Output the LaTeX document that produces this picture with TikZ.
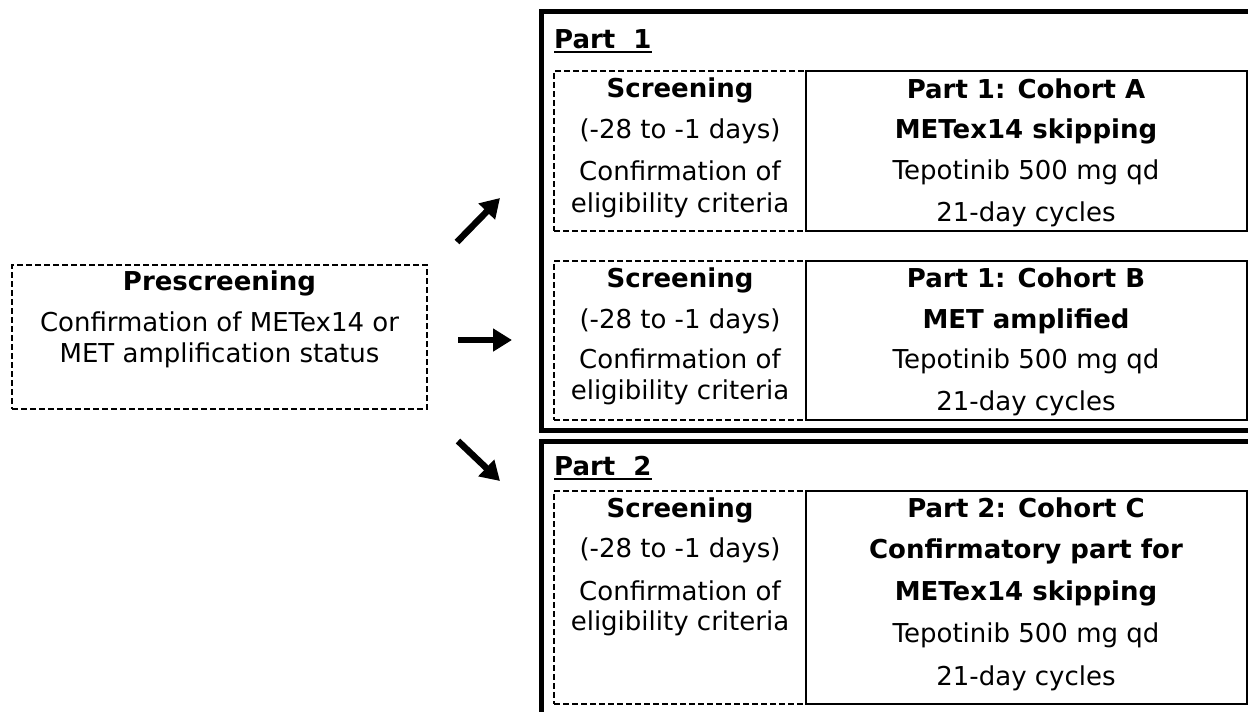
\documentclass[tikz,border=0pt]{standalone}
\usepackage{fontspec}
\setmainfont{DejaVu Sans}
\usetikzlibrary{arrows.meta}
\begin{document}
\begin{tikzpicture}[x=1pt,y=-1pt,
  txt/.style={font=\fontsize{26}{30}\selectfont, anchor=base, inner sep=0pt},
  btxt/.style={font=\fontsize{26}{30}\selectfont\bfseries, anchor=base, inner sep=0pt},
  head/.style={font=\fontsize{26}{30}\selectfont\bfseries, anchor=base west, inner sep=0pt},
  dbox/.style={draw, line width=1.2pt, dash pattern=on 6pt off 3pt, inner sep=0pt, outer sep=0pt, anchor=north west},
  sbox/.style={draw, line width=1.3pt, inner sep=0pt, outer sep=0pt, anchor=north west},
  frame/.style={draw, line width=5pt},
  arr/.style={line width=6.5pt, -{Triangle[length=19pt,width=22pt]}}
]
\useasboundingbox[fill=white] (0,0) rectangle (1248,712);

% outer frames of the two study parts
\draw[frame] (541.5,11) rectangle (1262,430);
\draw[frame] (541.5,441) rectangle (1262,728);

% prescreening
\node[dbox, minimum width=415pt, minimum height=144pt] (pre) at (12,265) {};
\node[btxt] (preT) at (219.5,290) {Prescreening};
\node[txt] (preL1) at (219.5,331) {Confirmation of METex14 or};
\node[txt] (preL2) at (219.5,362) {MET amplification status};

% part headings
\node[head] (p1h) at (554,48) {Part\ \ 1};
\draw[line width=2.4pt] ([yshift=-4pt]p1h.base west) -- ([yshift=-4pt]p1h.base east);
\node[head] (p2h) at (554,475) {Part\ \ 2};
\draw[line width=2.4pt] ([yshift=-4pt]p2h.base west) -- ([yshift=-4pt]p2h.base east);

% cohort A
\node[dbox, minimum width=252pt, minimum height=160pt] (scrA) at (554,71) {};
\node[sbox, minimum width=441pt, minimum height=160pt] (cohA) at (806,71) {};
\node[btxt] (sA1) at (680,97) {Screening};
\node[txt] (sA2) at (680,138) {(-28 to -1 days)};
\node[txt] (sA3) at (680,180) {Confirmation of};
\node[txt] (sA4) at (680,212) {eligibility criteria};
\node[btxt] (cA1) at (1026,98) {Part 1: Cohort A};
\node[btxt] (cA2) at (1026,138) {METex14 skipping};
\node[txt] (cA3) at (1026,179) {Tepotinib 500 mg qd};
\node[txt] (cA4) at (1026,221) {21-day cycles};

% cohort B
\node[dbox, minimum width=252pt, minimum height=159pt] (scrB) at (554,261) {};
\node[sbox, minimum width=441pt, minimum height=159pt] (cohB) at (806,261) {};
\node[btxt] (sB1) at (680,287) {Screening};
\node[txt] (sB2) at (680,328) {(-28 to -1 days)};
\node[txt] (sB3) at (680,368) {Confirmation of};
\node[txt] (sB4) at (680,399) {eligibility criteria};
\node[btxt] (cB1) at (1026,287) {Part 1: Cohort B};
\node[btxt] (cB2) at (1026,328) {MET amplified};
\node[txt] (cB3) at (1026,368) {Tepotinib 500 mg qd};
\node[txt] (cB4) at (1026,410) {21-day cycles};

% cohort C
\node[dbox, minimum width=252pt, minimum height=213pt] (scrC) at (554,491) {};
\node[sbox, minimum width=441pt, minimum height=213pt] (cohC) at (806,491) {};
\node[btxt] (sC1) at (680,517) {Screening};
\node[txt] (sC2) at (680,557) {(-28 to -1 days)};
\node[txt] (sC3) at (680,600) {Confirmation of};
\node[txt] (sC4) at (680,630) {eligibility criteria};
\node[btxt] (cC1) at (1026,517) {Part 2: Cohort C};
\node[btxt] (cC2) at (1026,558) {Confirmatory part for};
\node[btxt] (cC3) at (1026,600) {METex14 skipping};
\node[txt] (cC4) at (1026,642) {Tepotinib 500 mg qd};
\node[txt] (cC5) at (1026,685) {21-day cycles};

% allocation arrows
\coordinate (upS) at (457,242);
\coordinate (upE) at (500,198);
\coordinate (midS) at (458,340);
\coordinate (midE) at (512,340);
\coordinate (dnS) at (458,441);
\coordinate (dnE) at (500,481);
\draw[arr] (upS) -- (upE);
\draw[arr] (midS) -- (midE);
\draw[arr] (dnS) -- (dnE);
\end{tikzpicture}
\end{document}
